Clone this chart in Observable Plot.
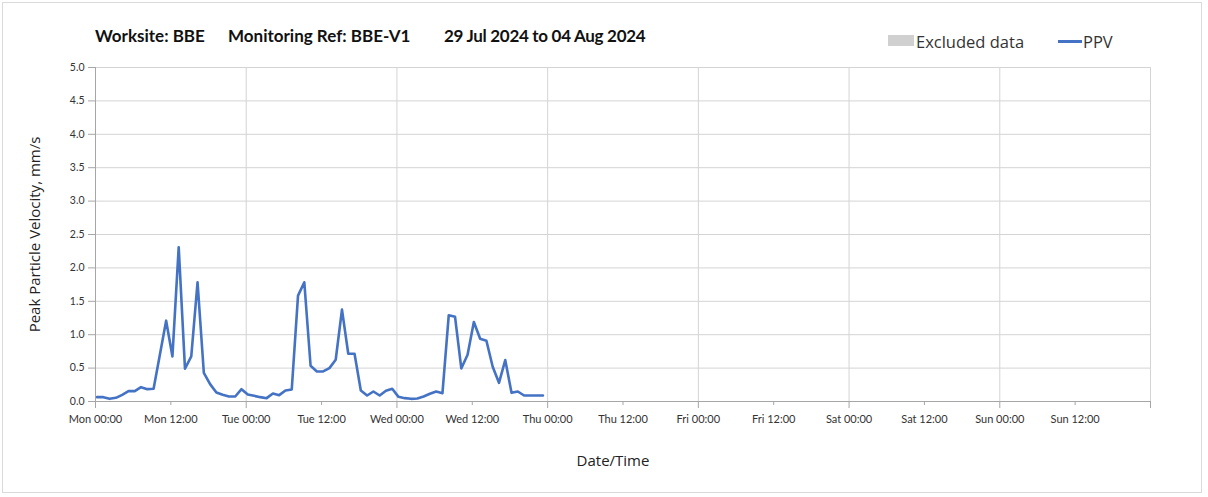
<!DOCTYPE html>
<html>
<head>
<meta charset="utf-8">
<script src="https://cdn.jsdelivr.net/npm/d3@7"></script>
<script src="https://cdn.jsdelivr.net/npm/@observablehq/plot@0.6"></script>
<style>
  html, body { margin: 0; padding: 0; background: #fff; }
  #wrap { position: relative; width: 1208px; height: 497px; overflow: hidden; font-family: Lato, "Open Sans", sans-serif; }
  #frame { position: absolute; left: 2px; top: 2px; width: 1200px; height: 491px; border: 1px solid #dadada; box-sizing: border-box; }
  .title { position: absolute; top: 25px; font-weight: bold; font-size: 17px; color: #111; white-space: nowrap; }
  .leg { position: absolute; top: 30px; font-size: 16.5px; color: #333; font-family: "Open Sans", sans-serif; white-space: nowrap; }
  #chart { position: absolute; left: 0; top: 55px; }
</style>
</head>
<body>
<div id="wrap">
  <div id="frame"></div>
  <div class="title" style="left:95px">Worksite: BBE</div>
  <div class="title" style="left:228px">Monitoring Ref: BBE-V1</div>
  <div class="title" style="left:444px;letter-spacing:-0.3px">29 Jul 2024 to 04 Aug 2024</div>
  <div style="position:absolute;left:888px;top:35px;width:26px;height:11px;background:#d0d0d0"></div>
  <div class="leg" style="left:916px">Excluded data</div>
  <div style="position:absolute;left:1058px;top:40px;width:24px;height:3px;background:#4472c4"></div>
  <div class="leg" style="left:1083px">PPV</div>
  <div id="chart"></div>
</div>
<script>
// Data: hourly PPV readings (mm/s), first reading Mon 29 Jul 2024 00:15
const startTime = "2024-07-29T00:15:00Z";
const ppv = [
  0.065, 0.065, 0.04, 0.055, 0.10, 0.155, 0.155, 0.215, 0.185, 0.19,
  0.70, 1.21, 0.675, 2.31, 0.49, 0.675, 1.785, 0.43, 0.26, 0.135,
  0.10, 0.075, 0.075, 0.185, 0.105, 0.085, 0.065, 0.05, 0.12, 0.095,
  0.165, 0.18, 1.585, 1.785, 0.535, 0.45, 0.45, 0.50, 0.625, 1.375,
  0.715, 0.715, 0.165, 0.09, 0.15, 0.09, 0.16, 0.19, 0.07, 0.05,
  0.04, 0.045, 0.075, 0.115, 0.15, 0.125, 1.29, 1.27, 0.495, 0.70,
  1.19, 0.94, 0.91, 0.52, 0.28, 0.62, 0.13, 0.15, 0.09, 0.09,
  0.09, 0.09
];
const yTicks = [0, 0.5, 1, 1.5, 2, 2.5, 3, 3.5, 4, 4.5, 5];
const xDomain = ["2024-07-29T00:00:00Z", "2024-08-05T00:00:00Z"];
const xLabelTicks = ["Mon 00:00","Mon 12:00","Tue 00:00","Tue 12:00","Wed 00:00","Wed 12:00","Thu 00:00","Thu 12:00","Fri 00:00","Fri 12:00","Sat 00:00","Sat 12:00","Sun 00:00","Sun 12:00"];

const t0 = new Date(startTime);
const data = ppv.map((v, i) => ({ time: new Date(t0.getTime() + i * 3600e3), ppv: v }));
const d0 = new Date(xDomain[0]), d1 = new Date(xDomain[1]);
const halfDays = d3.utcHour.every(12).range(d0, d1);         // label positions
const days = d3.utcDay.range(d0, new Date(d1.getTime() + 1)); // gridlines incl. end
const noons = halfDays.filter(d => d.getUTCHours() === 12);
const labelMap = new Map(halfDays.map((d, i) => [+d, xLabelTicks[i]]));

const chart = Plot.plot({
  width: 1208,
  height: 442,
  marginLeft: 95,
  marginRight: 58,
  marginTop: 12,
  marginBottom: 96,
  style: { fontFamily: "Lato, 'Open Sans', sans-serif", background: "transparent" },
  x: { type: "utc", domain: [d0, d1] },
  y: { domain: [0, 5] },
  marks: [
    Plot.gridY(yTicks, { stroke: "#d4d4d4", strokeOpacity: 1 }),
    Plot.gridX(days, { stroke: "#d4d4d4", strokeOpacity: 1 }),
    Plot.ruleX([d0], { stroke: "#a6a6a6" }),
    Plot.ruleY([0], { stroke: "#a6a6a6" }),
    Plot.axisY(yTicks, {
      tickSize: 7, tickPadding: 4, stroke: "#a6a6a6",
      tickFormat: d3.format(".1f"), fontSize: 10.5, color: "#333",
      label: null
    }),
    Plot.axisX(days, { tickSize: 7, stroke: "#a6a6a6", tickFormat: () => "", label: null }),
    Plot.axisX(noons, { tickSize: 4, stroke: "#a6a6a6", tickFormat: () => "", label: null }),
    Plot.axisX(halfDays, {
      tickSize: 0, tickPadding: 14, fontSize: 11, color: "#333",
      tickFormat: d => labelMap.get(+d), label: null
    }),
    Plot.line(data, { x: "time", y: "ppv", stroke: "#4472c4", strokeWidth: 2.6, strokeLinejoin: "round" }),
    Plot.text(["Peak Particle Velocity, mm/s"], {
      frameAnchor: "left", textAnchor: "middle", dx: -60, rotate: -90, fontSize: 15, fill: "#222",
      fontFamily: "'Open Sans', sans-serif"
    }),
    Plot.text(["Date/Time"], {
      frameAnchor: "bottom", dy: 64, dx: -10, fontSize: 15, fill: "#222",
      fontFamily: "'Open Sans', sans-serif"
    })
  ]
});
document.getElementById("chart").appendChild(chart);
</script>
</body>
</html>
